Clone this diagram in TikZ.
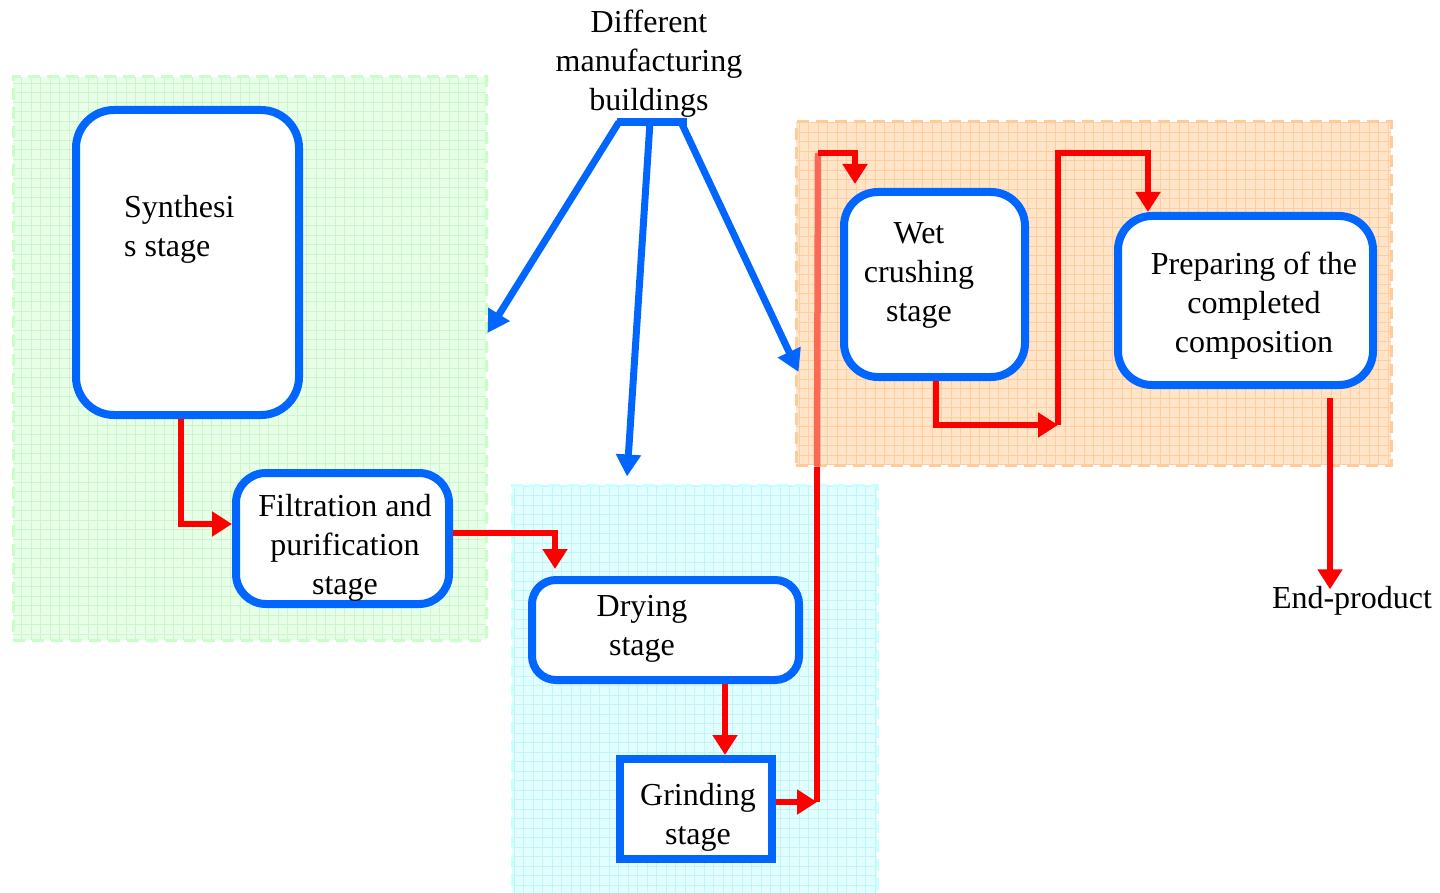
\documentclass[tikz,border=0pt]{standalone}
\usepackage{fontspec}
\setmainfont{Liberation Serif}
\usetikzlibrary{arrows.meta}

\definecolor{stageblue}{RGB}{0,102,255}
\definecolor{flowred}{RGB}{255,0,0}
\definecolor{riserred}{RGB}{250,105,85}
\definecolor{greenfill}{RGB}{230,255,230}
\definecolor{greengrid}{RGB}{204,247,204}
\definecolor{greenedge}{RGB}{200,255,200}
\definecolor{cyanfill}{RGB}{226,255,255}
\definecolor{cyangrid}{RGB}{196,244,250}
\definecolor{cyanedge}{RGB}{200,255,255}
\definecolor{orangefill}{RGB}{255,228,200}
\definecolor{orangegrid}{RGB}{255,206,160}
\definecolor{orangeedge}{RGB}{255,204,153}

\tikzset{
  building/.style={inner sep=0pt, line width=3pt, dash pattern=on 12pt off 7pt},
  bldggrid/.style={path picture={\draw[#1, solid, line width=0.7pt] (path picture bounding box.south west) grid[step=9.5pt] (path picture bounding box.north east);}},
  stage/.style={draw=stageblue, line width=8pt, fill=white, rounded corners=30pt, inner sep=0pt},
  stagetext/.style={inner sep=0pt, align=center, font=\fontsize{32}{39}\selectfont},
  flow/.style={draw=flowred, line width=6.5pt, -{Triangle[width=24pt,length=20pt]}},
  pointer/.style={draw=stageblue, line width=7pt, -{Triangle[width=24pt,length=22pt]}}
}

\begin{document}
\begin{tikzpicture}[x=1pt,y=-1pt]
\useasboundingbox (0,0) rectangle (1440,893);

% buildings
\node[building, draw=greenedge, fill=greenfill, bldggrid=greengrid, minimum width=473pt, minimum height=563pt] (greenbldg) at (249.5,358.5) {};
\node[building, draw=cyanedge, fill=cyanfill, bldggrid=cyangrid, minimum width=365pt, minimum height=420pt] (cyanbldg) at (694.5,695) {};
\node[building, draw=orangeedge, fill=orangefill, bldggrid=orangegrid, minimum width=595pt, minimum height=343pt] (orangebldg) at (1093.5,293.5) {};

% stages
\node[stage, rounded corners=38pt, minimum width=223pt, minimum height=305pt] (synth) at (187.5,262.5) {};
\node[stage, minimum width=213pt, minimum height=131pt] (filt) at (342.5,538.5) {};
\node[stage, rounded corners=24pt, minimum width=267pt, minimum height=100pt] (dry) at (665.5,630) {};
\node[stage, rounded corners=0pt, minimum width=152pt, minimum height=100pt] (grind) at (696,809) {};
\node[stage, rounded corners=34pt, minimum width=181pt, minimum height=185pt] (wet) at (934.5,284.5) {};
\node[stage, rounded corners=34pt, minimum width=255pt, minimum height=169pt] (prep) at (1245.5,300.5) {};

\node[stagetext, align=left, anchor=west] (synthtext) at (124,229) {Synthesi\\s stage};
\node[stagetext] (filttext) at (345,547.5) {Filtration and\\purification\\stage};
\node[stagetext] (drytext) at (642,629) {Drying\\stage};
\node[stagetext] (grindtext) at (698,817) {Grinding\\stage};
\node[stagetext] (wettext) at (919,275.5) {Wet\\crushing\\stage};
\node[stagetext] (preptext) at (1254,306) {Preparing of the\\completed\\composition};

\node[stagetext] (title) at (649,64) {Different\\manufacturing\\buildings};
\node[stagetext] (endprod) at (1352,601) {End-product};

% buildings pointers
\coordinate (teeL) at (617,122);
\coordinate (teeM) at (650,122);
\coordinate (teeR) at (687,122);
\draw[stageblue, line width=8pt] (teeL) -- (teeR);
\draw[pointer] ([xshift=2pt]teeL) -- ([yshift=25.5pt]greenbldg.east);
\draw[pointer] (teeM) -- ([xshift=-67.5pt,yshift=7pt]cyanbldg.north);
\draw[pointer] ([xshift=-6pt]teeR) -- ([xshift=4pt,yshift=-78.5pt]orangebldg.west);

% flow of the product
\coordinate (riserfoot) at (817,802);
\coordinate (risertop) at (818,153);
\coordinate (jog) at (1058,425);
\coordinate (jogtop) at (1058,153);

\draw[flow] ([xshift=-6.5pt]synth.south) |- ([yshift=14.5pt]filt.west);
\draw[flow] ([yshift=5.5pt]filt.east) -| ([xshift=-110.5pt,yshift=7pt]dry.north);
\draw[flow] ([xshift=59.5pt]dry.south) -- ([xshift=29pt]grind.north);
\draw[flow] ([yshift=7pt]grind.east) -- (riserfoot);
\draw[flowred, line width=6.5pt] (riserfoot) -- (riserfoot |- orangebldg.south);
\draw[riserred, line width=6.5pt] (riserfoot |- orangebldg.south) -- (risertop);
\draw[flow] (risertop) -| ([xshift=-79.5pt,yshift=4pt]wet.north);
\draw[flow] ([xshift=1.5pt]wet.south) |- (jog);
\draw[flow] (jog) -- (jogtop) -| ([xshift=-97.5pt]prep.north);
\draw[flow, shorten <=9pt] ([xshift=84.5pt]prep.south) -- ([xshift=-22pt,yshift=-3pt]endprod.north);

\end{tikzpicture}
\end{document}
